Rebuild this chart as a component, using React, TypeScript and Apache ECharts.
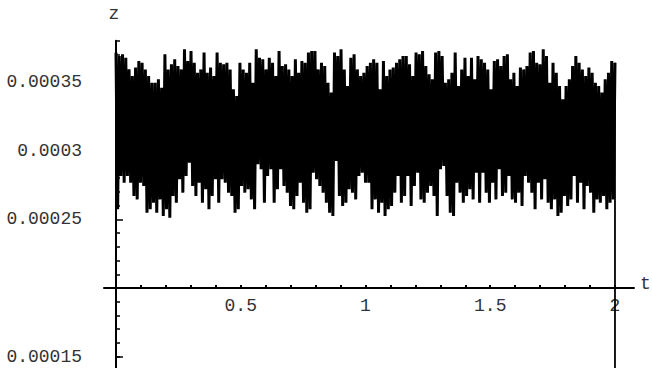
import React, { useEffect, useRef } from "react";
import * as echarts from "echarts";

// Upper turning points of the oscillation
const zTopSeg1 = [3.713, 3.688, 3.701, 3.676, 3.591, 3.543, 3.604, 3.652, 3.640, 3.591, 3.543, 3.494, 3.494, 3.519, 3.458, 3.701, 3.591, 3.628, 3.664, 3.616, 3.591, 3.737, 3.652, 3.725, 3.640, 3.567, 3.591, 3.713, 3.567, 3.604, 3.543, 3.713, 3.640, 3.628, 3.640, 3.591, 3.446, 3.397];
const zTopSeg2 = [3.640, 3.591, 3.567, 3.640, 3.494, 3.737, 3.676, 3.664, 3.591, 3.676, 3.640, 3.543, 3.725, 3.616, 3.628, 3.591, 3.543, 3.664, 3.567, 3.652, 3.640, 3.713, 3.725, 3.725, 3.591, 3.640, 3.616, 3.494, 3.422, 3.713, 3.688, 3.737, 3.591, 3.470, 3.676, 3.701, 3.591, 3.543, 3.567];
const zTopSeg3 = [3.616, 3.640, 3.664, 3.640, 3.446, 3.652, 3.543, 3.591, 3.604, 3.640, 3.664, 3.688, 3.688, 3.628, 3.543, 3.713, 3.701, 3.725, 3.616, 3.555, 3.519, 3.713, 3.725, 3.688, 3.494, 3.519, 3.567, 3.713, 3.470, 3.591, 3.676, 3.543, 3.676, 3.519, 3.688, 3.664, 3.640, 3.591, 3.446];
const zTopSeg4 = [3.652, 3.664, 3.616, 3.688, 3.701, 3.519, 3.567, 3.470, 3.604, 3.591, 3.616, 3.713, 3.725, 3.640, 3.628, 3.737, 3.688, 3.494, 3.640, 3.567, 3.470, 3.373, 3.470, 3.519, 3.616, 3.688, 3.640, 3.591, 3.543, 3.604, 3.567, 3.494, 3.470, 3.422, 3.519, 3.567, 3.652, 3.640];
// Lower turning points of the oscillation
const zBotSeg1 = [2.573, 2.815, 2.767, 2.815, 2.767, 2.670, 2.645, 2.767, 2.742, 2.548, 2.573, 2.621, 2.548, 2.645, 2.524, 2.573, 2.512, 2.670, 2.621, 2.791, 2.694, 2.815, 2.912, 2.742, 2.670, 2.767, 2.621, 2.718, 2.573, 2.670, 2.791, 2.621, 2.791, 2.767, 2.694, 2.670, 2.548, 2.573];
const zBotSeg2 = [2.742, 2.694, 2.718, 2.645, 2.573, 2.900, 2.864, 2.621, 2.815, 2.864, 2.621, 2.718, 2.864, 2.742, 2.694, 2.597, 2.573, 2.670, 2.767, 2.621, 2.548, 2.573, 2.839, 2.791, 2.742, 2.694, 2.621, 2.548, 2.524, 2.924, 2.670, 2.597, 2.621, 2.718, 2.694, 2.645, 2.815, 2.839, 2.767];
const zBotSeg3 = [2.767, 2.573, 2.645, 2.548, 2.621, 2.524, 2.573, 2.597, 2.694, 2.815, 2.621, 2.670, 2.815, 2.597, 2.742, 2.839, 2.645, 2.621, 2.694, 2.742, 2.670, 2.524, 2.864, 2.888, 2.670, 2.548, 2.524, 2.767, 2.694, 2.621, 2.670, 2.718, 2.645, 2.839, 2.621, 2.839, 2.694, 2.621, 2.767];
const zBotSeg4 = [2.645, 2.864, 2.670, 2.694, 2.815, 2.645, 2.621, 2.694, 2.597, 2.815, 2.767, 2.694, 2.573, 2.767, 2.645, 2.791, 2.621, 2.573, 2.645, 2.524, 2.548, 2.670, 2.597, 2.645, 2.815, 2.621, 2.767, 2.573, 2.742, 2.694, 2.548, 2.645, 2.621, 2.670, 2.573, 2.621, 2.645, 2.621];
// value after the end of the run (falls out of the plot range)
const zEnd = 1.2;
const Z_UNIT = 1e-4;

const tStart = 0;
const tEnd = 2;

const xTickValues = [0.1, 0.2, 0.3, 0.4, 0.5, 0.6, 0.7, 0.8, 0.9, 1, 1.1, 1.2, 1.3, 1.4, 1.5, 1.6, 1.7, 1.8, 1.9, 2];
const xLabelValues = [0.5, 1, 1.5, 2];
const xLabelTexts = ["0.5", "1", "1.5", "2"];

const yMinorTickValues = [0.00015, 0.00016, 0.00017, 0.00018, 0.00019, 0.00021, 0.00022, 0.00023, 0.00024, 0.00026, 0.00027, 0.00028, 0.00029, 0.00031, 0.00032, 0.00033, 0.00034, 0.00036, 0.00037, 0.00038];
const yMajorTickValues = [0.00015, 0.00025, 0.0003, 0.00035];
const yLabelValues = [0.00015, 0.00025, 0.0003, 0.00035];
const yLabelTexts = ["0.00015", "0.00025", "0.0003", "0.00035"];

function lookup(values: number[], texts: string[], v: number, eps: number) {
  for (let i = 0; i < values.length; i++) {
    if (Math.abs(values[i] - v) < eps) return texts[i];
  }
  return "";
}

export default function App() {
  const ref = useRef<HTMLDivElement>(null);

  useEffect(() => {
    if (!ref.current) return;
    const chart = echarts.init(ref.current, null, { renderer: "svg" });

    const tops = [...zTopSeg1, ...zTopSeg2, ...zTopSeg3, ...zTopSeg4];
    const bots = [...zBotSeg1, ...zBotSeg2, ...zBotSeg3, ...zBotSeg4];
    const seq: number[] = [];
    for (let i = 0; i < tops.length; i++) {
      seq.push(tops[i]);
      if (i < tops.length - 1) seq.push(bots[i]);
    }
    const data: [number, number][] = seq.map((v, k) => [
      tStart + ((tEnd - tStart) * k) / (seq.length - 1),
      v * Z_UNIT,
    ]);
    const last = data[data.length - 1];
    const dropData: [number, number][] = [last, [tEnd, zEnd * Z_UNIT]];

    const font = "Liberation Mono";
    const textColor = "#333";

    chart.setOption({
      animation: false,
      backgroundColor: "#fff",
      grid: {
        left: 104,
        width: 530,
        top: 40.68,
        height: 329.76,
        containLabel: false,
        outerBoundsMode: "none",
      },
      xAxis: {
        type: "value",
        min: -0.0481,
        max: 2.0762,
        position: "bottom",
        offset: -82.44,
        axisLine: { show: true, onZero: false, lineStyle: { color: "#000", width: 2 } },
        axisTick: {
          show: true,
          inside: true,
          length: 3,
          customValues: xTickValues,
          lineStyle: { color: "#000", width: 2 },
        },
        axisLabel: {
          show: true,
          customValues: xLabelValues,
          formatter: (v: number) => lookup(xLabelValues, xLabelTexts, v, 1e-6),
          margin: 9,
          fontFamily: font,
          fontSize: 18,
          color: textColor,
        },
        splitLine: { show: false },
      },
      yAxis: [
        {
          type: "value",
          min: 0.00014,
          max: 0.00038,
          position: "left",
          axisLine: { show: true, onZero: true, onZeroAxisIndex: 0, lineStyle: { color: "#000", width: 2 } },
          axisTick: {
            show: true,
            inside: true,
            length: 4,
            customValues: yMinorTickValues,
            lineStyle: { color: "#000", width: 1.5 },
          },
          axisLabel: {
            show: true,
            customValues: yLabelValues,
            formatter: (v: number) => lookup(yLabelValues, yLabelTexts, v, 1e-9),
            margin: 22,
            fontFamily: font,
            fontSize: 18,
            color: textColor,
          },
          splitLine: { show: false },
        },
        {
          type: "value",
          min: 0.00014,
          max: 0.00038,
          position: "left",
          axisLine: { show: false, onZero: true, onZeroAxisIndex: 0 },
          axisTick: {
            show: true,
            inside: true,
            length: 7,
            customValues: yMajorTickValues,
            lineStyle: { color: "#000", width: 1.5 },
          },
          axisLabel: { show: false },
          splitLine: { show: false },
        },
      ],
      series: [
        {
          type: "line",
          data,
          showSymbol: false,
          clip: true,
          lineStyle: { color: "#000", width: 3, join: "bevel" },
          xAxisIndex: 0,
          yAxisIndex: 0,
        },
        {
          type: "line",
          data: dropData,
          showSymbol: false,
          clip: true,
          lineStyle: { color: "#000", width: 1.8 },
          xAxisIndex: 0,
          yAxisIndex: 0,
        },
      ],
      graphic: [
        {
          type: "text",
          x: 114,
          y: 14,
          style: { text: "z", fontFamily: font, fontSize: 18, fill: textColor, align: "center", verticalAlign: "middle" },
        },
        {
          type: "text",
          x: 640,
          y: 284,
          style: { text: "t", fontFamily: font, fontSize: 18, fill: textColor, align: "left", verticalAlign: "middle" },
        },
      ],
    });

    return () => chart.dispose();
  }, []);

  return (
    <div
      ref={ref}
      style={{ position: "fixed", left: 0, top: 0, width: 652, height: 368, background: "#fff" }}
    />
  );
}
